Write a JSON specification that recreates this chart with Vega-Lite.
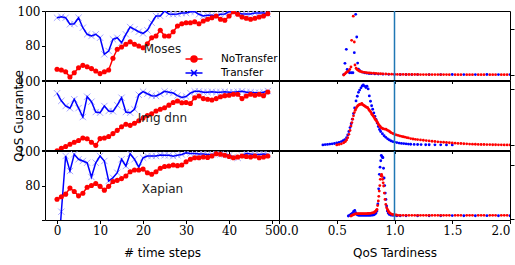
{
"$schema":"https://vega.github.io/schema/vega-lite/v6.json",
"background":"white",
"padding":{"left":11,"top":4,"right":0,"bottom":0},
"datasets":{
"qos":[
{"app":"M","t":0,"NoTransfer":66.2,"Transfer":96.1},{"app":"M","t":1,"NoTransfer":65.8,"Transfer":96.7},{"app":"M","t":2,"NoTransfer":64.8,"Transfer":96.1},{"app":"M","t":3,"NoTransfer":61.7,"Transfer":92.3},{"app":"M","t":4,"NoTransfer":64.2,"Transfer":92.6},{"app":"M","t":5,"NoTransfer":67.1,"Transfer":96.1},{"app":"M","t":6,"NoTransfer":68.5,"Transfer":90.3},{"app":"M","t":7,"NoTransfer":67.7,"Transfer":86.5},{"app":"M","t":8,"NoTransfer":66.6,"Transfer":85.5},{"app":"M","t":9,"NoTransfer":65.2,"Transfer":86.5},
{"app":"M","t":10,"NoTransfer":63.7,"Transfer":84.5},{"app":"M","t":11,"NoTransfer":64.8,"Transfer":74.9},{"app":"M","t":12,"NoTransfer":65.8,"Transfer":76.8},{"app":"M","t":13,"NoTransfer":72.6,"Transfer":83.6},{"app":"M","t":14,"NoTransfer":77.8,"Transfer":84.5},{"app":"M","t":15,"NoTransfer":79.1,"Transfer":81.6},{"app":"M","t":16,"NoTransfer":80.7,"Transfer":86.5},{"app":"M","t":17,"NoTransfer":82.2,"Transfer":90.7},{"app":"M","t":18,"NoTransfer":80.7,"Transfer":89.4},{"app":"M","t":19,"NoTransfer":79.7,"Transfer":88},
{"app":"M","t":20,"NoTransfer":78.7,"Transfer":87},{"app":"M","t":21,"NoTransfer":81,"Transfer":88.8},{"app":"M","t":22,"NoTransfer":84.5,"Transfer":93.2},{"app":"M","t":23,"NoTransfer":85.5,"Transfer":97.1},{"app":"M","t":24,"NoTransfer":88.8,"Transfer":97.1},{"app":"M","t":25,"NoTransfer":85.5,"Transfer":100},{"app":"M","t":26,"NoTransfer":85.5,"Transfer":98.3},{"app":"M","t":27,"NoTransfer":88,"Transfer":98.1},{"app":"M","t":28,"NoTransfer":91.3,"Transfer":98.3},{"app":"M","t":29,"NoTransfer":92.6,"Transfer":98.8},
{"app":"M","t":30,"NoTransfer":93.2,"Transfer":98.8},{"app":"M","t":31,"NoTransfer":93.2,"Transfer":99.6},{"app":"M","t":32,"NoTransfer":93.8,"Transfer":99.6},{"app":"M","t":33,"NoTransfer":92.6,"Transfer":98.1},{"app":"M","t":34,"NoTransfer":94.2,"Transfer":97.1},{"app":"M","t":35,"NoTransfer":95.2,"Transfer":97.5},{"app":"M","t":36,"NoTransfer":96.1,"Transfer":97.5},{"app":"M","t":37,"NoTransfer":97.1,"Transfer":97.1},{"app":"M","t":38,"NoTransfer":95.2,"Transfer":98.1},{"app":"M","t":39,"NoTransfer":94.6,"Transfer":98.3},
{"app":"M","t":40,"NoTransfer":97.1,"Transfer":99.6},{"app":"M","t":41,"NoTransfer":99.6,"Transfer":99.6},{"app":"M","t":42,"NoTransfer":98.1,"Transfer":98.8},{"app":"M","t":43,"NoTransfer":96.5,"Transfer":98.3},{"app":"M","t":44,"NoTransfer":95.8,"Transfer":98.3},{"app":"M","t":45,"NoTransfer":95.2,"Transfer":98.3},{"app":"M","t":46,"NoTransfer":95.8,"Transfer":98.8},{"app":"M","t":47,"NoTransfer":96.5,"Transfer":98.8},{"app":"M","t":48,"NoTransfer":97.1,"Transfer":98.8},{"app":"M","t":49,"NoTransfer":98.4,"Transfer":98.3},
{"app":"I","t":0,"NoTransfer":59.5,"Transfer":92.9},{"app":"I","t":1,"NoTransfer":61,"Transfer":88.5},{"app":"I","t":2,"NoTransfer":62,"Transfer":85.5},{"app":"I","t":3,"NoTransfer":63.3,"Transfer":84.2},{"app":"I","t":4,"NoTransfer":64.5,"Transfer":89.4},{"app":"I","t":5,"NoTransfer":65.5,"Transfer":84.3},{"app":"I","t":6,"NoTransfer":67,"Transfer":79.1},{"app":"I","t":7,"NoTransfer":66.5,"Transfer":90.9},{"app":"I","t":8,"NoTransfer":64.5,"Transfer":88},{"app":"I","t":9,"NoTransfer":62.7,"Transfer":82},
{"app":"I","t":10,"NoTransfer":66.6,"Transfer":81.6},{"app":"I","t":11,"NoTransfer":67,"Transfer":85.5},{"app":"I","t":12,"NoTransfer":67.8,"Transfer":82.6},{"app":"I","t":13,"NoTransfer":69.5,"Transfer":82.4},{"app":"I","t":14,"NoTransfer":71.4,"Transfer":86},{"app":"I","t":15,"NoTransfer":73.5,"Transfer":90.3},{"app":"I","t":16,"NoTransfer":74.9,"Transfer":82},{"app":"I","t":17,"NoTransfer":74.3,"Transfer":81.6},{"app":"I","t":18,"NoTransfer":75.5,"Transfer":83.6},{"app":"I","t":19,"NoTransfer":77,"Transfer":92},
{"app":"I","t":20,"NoTransfer":78.5,"Transfer":93.8},{"app":"I","t":21,"NoTransfer":80,"Transfer":92.6},{"app":"I","t":22,"NoTransfer":81,"Transfer":91.5},{"app":"I","t":23,"NoTransfer":82.6,"Transfer":91.3},{"app":"I","t":24,"NoTransfer":83.6,"Transfer":92.5},{"app":"I","t":25,"NoTransfer":84.5,"Transfer":94},{"app":"I","t":26,"NoTransfer":86,"Transfer":93.5},{"app":"I","t":27,"NoTransfer":87.5,"Transfer":93},{"app":"I","t":28,"NoTransfer":88.4,"Transfer":91.5},{"app":"I","t":29,"NoTransfer":87.4,"Transfer":90.5},
{"app":"I","t":30,"NoTransfer":87.5,"Transfer":91},{"app":"I","t":31,"NoTransfer":87,"Transfer":93},{"app":"I","t":32,"NoTransfer":90.3,"Transfer":94},{"app":"I","t":33,"NoTransfer":91.3,"Transfer":94},{"app":"I","t":34,"NoTransfer":89.8,"Transfer":93.5},{"app":"I","t":35,"NoTransfer":89.4,"Transfer":93.5},{"app":"I","t":36,"NoTransfer":89,"Transfer":93.8},{"app":"I","t":37,"NoTransfer":89.8,"Transfer":93.5},{"app":"I","t":38,"NoTransfer":90.9,"Transfer":93.5},{"app":"I","t":39,"NoTransfer":91.5,"Transfer":93.8},
{"app":"I","t":40,"NoTransfer":91.7,"Transfer":93.5},{"app":"I","t":41,"NoTransfer":92.3,"Transfer":93.5},{"app":"I","t":42,"NoTransfer":92.3,"Transfer":93.8},{"app":"I","t":43,"NoTransfer":89.8,"Transfer":94},{"app":"I","t":44,"NoTransfer":91.3,"Transfer":93.5},{"app":"I","t":45,"NoTransfer":92.3,"Transfer":93.5},{"app":"I","t":46,"NoTransfer":91.7,"Transfer":93.2},{"app":"I","t":47,"NoTransfer":92.3,"Transfer":93.2},{"app":"I","t":48,"NoTransfer":91.5,"Transfer":93.5},{"app":"I","t":49,"NoTransfer":93.6,"Transfer":94.2},
{"app":"X","t":0,"NoTransfer":72,"Transfer":30},{"app":"X","t":1,"NoTransfer":73.5,"Transfer":64.8},{"app":"X","t":2,"NoTransfer":75,"Transfer":97.1},{"app":"X","t":3,"NoTransfer":78.5,"Transfer":88.4},{"app":"X","t":4,"NoTransfer":76.5,"Transfer":98.1},{"app":"X","t":5,"NoTransfer":74,"Transfer":95.2},{"app":"X","t":6,"NoTransfer":75.5,"Transfer":94.2},{"app":"X","t":7,"NoTransfer":79,"Transfer":93.2},{"app":"X","t":8,"NoTransfer":80,"Transfer":84.9},{"app":"X","t":9,"NoTransfer":81.2,"Transfer":93.2},
{"app":"X","t":10,"NoTransfer":79.5,"Transfer":97.1},{"app":"X","t":11,"NoTransfer":77.3,"Transfer":94.2},{"app":"X","t":12,"NoTransfer":79.5,"Transfer":82.6},{"app":"X","t":13,"NoTransfer":82.3,"Transfer":84.5},{"app":"X","t":14,"NoTransfer":83,"Transfer":87.4},{"app":"X","t":15,"NoTransfer":84,"Transfer":95.2},{"app":"X","t":16,"NoTransfer":85.5,"Transfer":91.3},{"app":"X","t":17,"NoTransfer":88,"Transfer":98.4},{"app":"X","t":18,"NoTransfer":89,"Transfer":95.2},{"app":"X","t":19,"NoTransfer":89,"Transfer":90.7},
{"app":"X","t":20,"NoTransfer":89.5,"Transfer":96.1},{"app":"X","t":21,"NoTransfer":87.4,"Transfer":97.1},{"app":"X","t":22,"NoTransfer":86.5,"Transfer":97.1},{"app":"X","t":23,"NoTransfer":88,"Transfer":97.1},{"app":"X","t":24,"NoTransfer":90,"Transfer":97.7},{"app":"X","t":25,"NoTransfer":91,"Transfer":97.5},{"app":"X","t":26,"NoTransfer":91.3,"Transfer":97.5},{"app":"X","t":27,"NoTransfer":91.9,"Transfer":97},{"app":"X","t":28,"NoTransfer":91.5,"Transfer":97.5},{"app":"X","t":29,"NoTransfer":91.9,"Transfer":98},
{"app":"X","t":30,"NoTransfer":93.8,"Transfer":99},{"app":"X","t":31,"NoTransfer":95.2,"Transfer":98.5},{"app":"X","t":32,"NoTransfer":96.1,"Transfer":98.5},{"app":"X","t":33,"NoTransfer":96.1,"Transfer":98.2},{"app":"X","t":34,"NoTransfer":96.5,"Transfer":98.2},{"app":"X","t":35,"NoTransfer":96.3,"Transfer":98},{"app":"X","t":36,"NoTransfer":97.1,"Transfer":98},{"app":"X","t":37,"NoTransfer":98.4,"Transfer":98.2},{"app":"X","t":38,"NoTransfer":98.1,"Transfer":98},{"app":"X","t":39,"NoTransfer":97.5,"Transfer":98},
{"app":"X","t":40,"NoTransfer":96.8,"Transfer":97.5},{"app":"X","t":41,"NoTransfer":96.1,"Transfer":96.5},{"app":"X","t":42,"NoTransfer":96.5,"Transfer":96},{"app":"X","t":43,"NoTransfer":97.1,"Transfer":97.5},{"app":"X","t":44,"NoTransfer":96.8,"Transfer":98.5},{"app":"X","t":45,"NoTransfer":96.5,"Transfer":98.2},{"app":"X","t":46,"NoTransfer":97.1,"Transfer":98},{"app":"X","t":47,"NoTransfer":96.1,"Transfer":98},{"app":"X","t":48,"NoTransfer":96.5,"Transfer":98.2},{"app":"X","t":49,"NoTransfer":97.1,"Transfer":98}
],
"labels":[
{"app":"M","label":"Moses","t":24.5,"q":75.8},{"app":"I","label":"Img dnn","t":24.5,"q":76},{"app":"X","label":"Xapian","t":24.5,"q":75.8}
],
"tard":[
{"a":"M","s":"T","x":0.56,"y":0.5},{"a":"M","s":"T","x":0.571,"y":12.7},{"a":"M","s":"T","x":0.583,"y":27.9},{"a":"M","s":"T","x":0.59,"y":6},{"a":"M","s":"T","x":0.6,"y":4},{"a":"M","s":"T","x":0.61,"y":2.5},{"a":"M","s":"T","x":0.625,"y":2.5},{"a":"M","s":"T","x":0.64,"y":2.5},{"a":"M","s":"T","x":0.652,"y":24.3},{"a":"M","s":"T","x":0.664,"y":66},{"a":"M","s":"T","x":0.673,"y":41.3},{"a":"M","s":"T","x":0.681,"y":13},{"a":"M","s":"T","x":0.688,"y":6.5},{"a":"M","s":"T","x":0.7,"y":4.8},{"a":"M","s":"T","x":0.72,"y":3.2},{"a":"M","s":"T","x":0.74,"y":2.5},{"a":"M","s":"T","x":0.76,"y":2},{"a":"M","s":"T","x":0.78,"y":1.7},{"a":"M","s":"T","x":0.8,"y":1.5},{"a":"M","s":"T","x":0.83,"y":1.2},{"a":"M","s":"T","x":0.86,"y":1},{"a":"M","s":"T","x":0.9,"y":0.9},{"a":"M","s":"T","x":0.95,"y":0.8},{"a":"M","s":"T","x":1.0,"y":0.7},{"a":"M","s":"T","x":1.05,"y":0.6},{"a":"M","s":"T","x":1.1,"y":0.6},{"a":"M","s":"T","x":1.15,"y":0.5},{"a":"M","s":"T","x":1.2,"y":0.5},{"a":"M","s":"T","x":1.3,"y":0.5},{"a":"M","s":"T","x":1.4,"y":0.5},{"a":"M","s":"T","x":1.5,"y":0.6},{"a":"M","s":"T","x":1.6,"y":0.5},{"a":"M","s":"T","x":1.7,"y":0.5},{"a":"M","s":"T","x":1.8,"y":0.6},{"a":"M","s":"T","x":1.9,"y":0.5},{"a":"M","s":"T","x":2.0,"y":0.5},
{"a":"M","s":"N","x":0.56,"y":0},{"a":"M","s":"N","x":0.57,"y":1.2},{"a":"M","s":"N","x":0.58,"y":2.5},{"a":"M","s":"N","x":0.59,"y":3.4},{"a":"M","s":"N","x":0.6,"y":4.3},{"a":"M","s":"N","x":0.612,"y":6},{"a":"M","s":"N","x":0.623,"y":8.7},{"a":"M","s":"N","x":0.629,"y":37.7},{"a":"M","s":"N","x":0.643,"y":64},{"a":"M","s":"N","x":0.652,"y":35.9},{"a":"M","s":"N","x":0.658,"y":10.9},{"a":"M","s":"N","x":0.668,"y":7.5},{"a":"M","s":"N","x":0.675,"y":6.2},{"a":"M","s":"N","x":0.685,"y":5.2},{"a":"M","s":"N","x":0.695,"y":4.4},{"a":"M","s":"N","x":0.705,"y":3.9},{"a":"M","s":"N","x":0.715,"y":3.5},{"a":"M","s":"N","x":0.725,"y":3.2},{"a":"M","s":"N","x":0.74,"y":2.9},{"a":"M","s":"N","x":0.755,"y":2.6},{"a":"M","s":"N","x":0.77,"y":2.4},{"a":"M","s":"N","x":0.785,"y":2.2},{"a":"M","s":"N","x":0.8,"y":2},{"a":"M","s":"N","x":0.82,"y":1.9},{"a":"M","s":"N","x":0.84,"y":1.7},{"a":"M","s":"N","x":0.86,"y":1.6},{"a":"M","s":"N","x":0.88,"y":1.4},{"a":"M","s":"N","x":0.9,"y":1.3},{"a":"M","s":"N","x":0.925,"y":1.1},{"a":"M","s":"N","x":0.95,"y":1},{"a":"M","s":"N","x":0.975,"y":0.9},{"a":"M","s":"N","x":1.0,"y":0.8},
{"a":"M","s":"N","x":1.025,"y":0.7},{"a":"M","s":"N","x":1.05,"y":0.7},{"a":"M","s":"N","x":1.075,"y":0.7},{"a":"M","s":"N","x":1.1,"y":0.6},{"a":"M","s":"N","x":1.125,"y":0.6},{"a":"M","s":"N","x":1.15,"y":0.6},{"a":"M","s":"N","x":1.175,"y":0.6},{"a":"M","s":"N","x":1.2,"y":0.6},{"a":"M","s":"N","x":1.225,"y":0.5},{"a":"M","s":"N","x":1.25,"y":0.5},{"a":"M","s":"N","x":1.275,"y":0.5},{"a":"M","s":"N","x":1.3,"y":0.5},{"a":"M","s":"N","x":1.325,"y":0.5},{"a":"M","s":"N","x":1.35,"y":0.5},{"a":"M","s":"N","x":1.375,"y":0.5},{"a":"M","s":"N","x":1.4,"y":0.5},{"a":"M","s":"N","x":1.425,"y":0.5},{"a":"M","s":"N","x":1.45,"y":0.5},{"a":"M","s":"N","x":1.475,"y":0.4},{"a":"M","s":"N","x":1.525,"y":0.4},{"a":"M","s":"N","x":1.55,"y":0.4},{"a":"M","s":"N","x":1.575,"y":0.4},{"a":"M","s":"N","x":1.625,"y":0.4},{"a":"M","s":"N","x":1.65,"y":0.4},{"a":"M","s":"N","x":1.675,"y":0.4},{"a":"M","s":"N","x":1.725,"y":0.4},{"a":"M","s":"N","x":1.75,"y":0.4},{"a":"M","s":"N","x":1.775,"y":0.4},{"a":"M","s":"N","x":1.825,"y":0.4},{"a":"M","s":"N","x":1.85,"y":0.4},{"a":"M","s":"N","x":1.875,"y":0.4},{"a":"M","s":"N","x":1.925,"y":0.4},{"a":"M","s":"N","x":1.95,"y":0.4},{"a":"M","s":"N","x":1.975,"y":0.4},
{"a":"I","s":"T","x":0.38,"y":0},{"a":"I","s":"T","x":0.4,"y":0.3},{"a":"I","s":"T","x":0.42,"y":0.5},{"a":"I","s":"T","x":0.44,"y":0.8},{"a":"I","s":"T","x":0.46,"y":1},{"a":"I","s":"T","x":0.48,"y":1.3},{"a":"I","s":"T","x":0.5,"y":1.8},{"a":"I","s":"T","x":0.52,"y":2.3},{"a":"I","s":"T","x":0.54,"y":3},{"a":"I","s":"T","x":0.555,"y":3.8},{"a":"I","s":"T","x":0.57,"y":4.8},{"a":"I","s":"T","x":0.585,"y":6.5},{"a":"I","s":"T","x":0.595,"y":9},{"a":"I","s":"T","x":0.605,"y":12},{"a":"I","s":"T","x":0.615,"y":15.5},{"a":"I","s":"T","x":0.625,"y":19},{"a":"I","s":"T","x":0.635,"y":23},{"a":"I","s":"T","x":0.645,"y":28},{"a":"I","s":"T","x":0.655,"y":33},{"a":"I","s":"T","x":0.667,"y":39.3},{"a":"I","s":"T","x":0.678,"y":43.5},{"a":"I","s":"T","x":0.688,"y":47},{"a":"I","s":"T","x":0.698,"y":49},{"a":"I","s":"T","x":0.71,"y":51},{"a":"I","s":"T","x":0.72,"y":52.7},{"a":"I","s":"T","x":0.73,"y":53.5},{"a":"I","s":"T","x":0.742,"y":52.5},{"a":"I","s":"T","x":0.753,"y":51.2},{"a":"I","s":"T","x":0.762,"y":52.5},{"a":"I","s":"T","x":0.772,"y":50},{"a":"I","s":"T","x":0.782,"y":43.8},{"a":"I","s":"T","x":0.792,"y":39},{"a":"I","s":"T","x":0.802,"y":35},{"a":"I","s":"T","x":0.811,"y":31.9},{"a":"I","s":"T","x":0.821,"y":28.5},{"a":"I","s":"T","x":0.831,"y":25.5},{"a":"I","s":"T","x":0.84,"y":22.9},{"a":"I","s":"T","x":0.85,"y":19.5},{"a":"I","s":"T","x":0.86,"y":16.5},{"a":"I","s":"T","x":0.87,"y":13.8},{"a":"I","s":"T","x":0.88,"y":12},{"a":"I","s":"T","x":0.895,"y":10},{"a":"I","s":"T","x":0.91,"y":8.2},{"a":"I","s":"T","x":0.925,"y":6.8},{"a":"I","s":"T","x":0.94,"y":5.5},{"a":"I","s":"T","x":0.955,"y":4.5},{"a":"I","s":"T","x":0.97,"y":3.6},{"a":"I","s":"T","x":0.985,"y":3},{"a":"I","s":"T","x":1.0,"y":2.6},{"a":"I","s":"T","x":1.02,"y":2.1},{"a":"I","s":"T","x":1.04,"y":1.7},{"a":"I","s":"T","x":1.06,"y":1.4},{"a":"I","s":"T","x":1.08,"y":1.2},{"a":"I","s":"T","x":1.1,"y":1},{"a":"I","s":"T","x":1.12,"y":0.8},{"a":"I","s":"T","x":1.14,"y":0.6},{"a":"I","s":"T","x":1.17,"y":0.5},{"a":"I","s":"T","x":1.2,"y":0.4},{"a":"I","s":"T","x":1.23,"y":0.3},{"a":"I","s":"T","x":1.27,"y":0.2},{"a":"I","s":"T","x":1.3,"y":0.2},{"a":"I","s":"T","x":1.35,"y":0.1},{"a":"I","s":"T","x":1.4,"y":0.1},{"a":"I","s":"T","x":1.45,"y":0},{"a":"I","s":"T","x":1.5,"y":0},
{"a":"I","s":"N","x":0.5,"y":0},{"a":"I","s":"N","x":0.52,"y":0.5},{"a":"I","s":"N","x":0.54,"y":1},{"a":"I","s":"N","x":0.56,"y":2},{"a":"I","s":"N","x":0.575,"y":3},{"a":"I","s":"N","x":0.585,"y":4.5},{"a":"I","s":"N","x":0.595,"y":6.5},{"a":"I","s":"N","x":0.605,"y":9.5},{"a":"I","s":"N","x":0.615,"y":13},{"a":"I","s":"N","x":0.623,"y":17},{"a":"I","s":"N","x":0.631,"y":20},{"a":"I","s":"N","x":0.638,"y":23},{"a":"I","s":"N","x":0.645,"y":26},{"a":"I","s":"N","x":0.652,"y":28.9},{"a":"I","s":"N","x":0.66,"y":31},{"a":"I","s":"N","x":0.667,"y":32.5},{"a":"I","s":"N","x":0.674,"y":34},{"a":"I","s":"N","x":0.681,"y":34.8},{"a":"I","s":"N","x":0.688,"y":35.5},{"a":"I","s":"N","x":0.695,"y":36},{"a":"I","s":"N","x":0.703,"y":36.5},{"a":"I","s":"N","x":0.71,"y":36.3},{"a":"I","s":"N","x":0.717,"y":37},{"a":"I","s":"N","x":0.724,"y":36},{"a":"I","s":"N","x":0.731,"y":35.5},{"a":"I","s":"N","x":0.739,"y":35},{"a":"I","s":"N","x":0.746,"y":34.5},{"a":"I","s":"N","x":0.753,"y":34},{"a":"I","s":"N","x":0.761,"y":33.5},{"a":"I","s":"N","x":0.768,"y":33.3},{"a":"I","s":"N","x":0.775,"y":32},{"a":"I","s":"N","x":0.782,"y":31},{"a":"I","s":"N","x":0.79,"y":30},{"a":"I","s":"N","x":0.797,"y":28.9},{"a":"I","s":"N","x":0.804,"y":27.5},{"a":"I","s":"N","x":0.811,"y":26.5},{"a":"I","s":"N","x":0.818,"y":25.5},{"a":"I","s":"N","x":0.825,"y":24.4},{"a":"I","s":"N","x":0.833,"y":23},{"a":"I","s":"N","x":0.84,"y":22},{"a":"I","s":"N","x":0.847,"y":21},{"a":"I","s":"N","x":0.854,"y":19.9},{"a":"I","s":"N","x":0.861,"y":18.5},{"a":"I","s":"N","x":0.868,"y":17.5},{"a":"I","s":"N","x":0.876,"y":16.5},{"a":"I","s":"N","x":0.883,"y":15.5},{"a":"I","s":"N","x":0.892,"y":15},{"a":"I","s":"N","x":0.9,"y":14.5},{"a":"I","s":"N","x":0.913,"y":14.2},{"a":"I","s":"N","x":0.926,"y":14},{"a":"I","s":"N","x":0.938,"y":13.2},{"a":"I","s":"N","x":0.95,"y":12.5},{"a":"I","s":"N","x":0.96,"y":11.8},{"a":"I","s":"N","x":0.97,"y":11},{"a":"I","s":"N","x":0.985,"y":10.2},{"a":"I","s":"N","x":1.0,"y":9.5},{"a":"I","s":"N","x":1.015,"y":9},{"a":"I","s":"N","x":1.03,"y":8.6},{"a":"I","s":"N","x":1.045,"y":8.1},{"a":"I","s":"N","x":1.06,"y":7.7},{"a":"I","s":"N","x":1.075,"y":7.3},{"a":"I","s":"N","x":1.09,"y":7},{"a":"I","s":"N","x":1.105,"y":6.6},{"a":"I","s":"N","x":1.12,"y":6.3},{"a":"I","s":"N","x":1.14,"y":5.7},{"a":"I","s":"N","x":1.16,"y":5.3},{"a":"I","s":"N","x":1.18,"y":5},{"a":"I","s":"N","x":1.2,"y":4.8},{"a":"I","s":"N","x":1.225,"y":4.5},{"a":"I","s":"N","x":1.25,"y":4.2},{"a":"I","s":"N","x":1.275,"y":3.9},{"a":"I","s":"N","x":1.3,"y":3.6},{"a":"I","s":"N","x":1.325,"y":3.3},{"a":"I","s":"N","x":1.35,"y":3.1},{"a":"I","s":"N","x":1.375,"y":2.8},{"a":"I","s":"N","x":1.4,"y":2.6},{"a":"I","s":"N","x":1.425,"y":2.4},{"a":"I","s":"N","x":1.45,"y":2.2},{"a":"I","s":"N","x":1.475,"y":2},{"a":"I","s":"N","x":1.5,"y":1.8},{"a":"I","s":"N","x":1.525,"y":1.6},{"a":"I","s":"N","x":1.55,"y":1.4},{"a":"I","s":"N","x":1.575,"y":1.3},{"a":"I","s":"N","x":1.6,"y":1.1},{"a":"I","s":"N","x":1.625,"y":1},{"a":"I","s":"N","x":1.65,"y":0.8},{"a":"I","s":"N","x":1.675,"y":0.7},{"a":"I","s":"N","x":1.7,"y":0.6},{"a":"I","s":"N","x":1.725,"y":0.5},{"a":"I","s":"N","x":1.75,"y":0.4},{"a":"I","s":"N","x":1.775,"y":0.4},{"a":"I","s":"N","x":1.8,"y":0.3},{"a":"I","s":"N","x":1.825,"y":0.3},{"a":"I","s":"N","x":1.85,"y":0.2},{"a":"I","s":"N","x":1.875,"y":0.2},{"a":"I","s":"N","x":1.9,"y":0.1},{"a":"I","s":"N","x":1.925,"y":0.1},{"a":"I","s":"N","x":1.95,"y":0},{"a":"I","s":"N","x":1.975,"y":0},{"a":"I","s":"N","x":2.0,"y":0},
{"a":"X","s":"T","x":0.6,"y":2.8},{"a":"X","s":"T","x":0.612,"y":3.5},{"a":"X","s":"T","x":0.624,"y":4.5},{"a":"X","s":"T","x":0.636,"y":5.5},{"a":"X","s":"T","x":0.646,"y":7},{"a":"X","s":"T","x":0.656,"y":8},{"a":"X","s":"T","x":0.664,"y":6},{"a":"X","s":"T","x":0.672,"y":4.5},{"a":"X","s":"T","x":0.68,"y":3.8},{"a":"X","s":"T","x":0.69,"y":3.5},{"a":"X","s":"T","x":0.7,"y":3.4},{"a":"X","s":"T","x":0.71,"y":3.4},{"a":"X","s":"T","x":0.72,"y":3.4},{"a":"X","s":"T","x":0.73,"y":3.4},{"a":"X","s":"T","x":0.74,"y":3.4},{"a":"X","s":"T","x":0.75,"y":3.4},{"a":"X","s":"T","x":0.76,"y":3.4},{"a":"X","s":"T","x":0.77,"y":3.4},{"a":"X","s":"T","x":0.78,"y":3.5},{"a":"X","s":"T","x":0.79,"y":3.5},{"a":"X","s":"T","x":0.8,"y":3.6},{"a":"X","s":"T","x":0.81,"y":3.7},{"a":"X","s":"T","x":0.82,"y":3.8},{"a":"X","s":"T","x":0.83,"y":4.5},{"a":"X","s":"T","x":0.84,"y":5.5},{"a":"X","s":"T","x":0.848,"y":7.4},{"a":"X","s":"T","x":0.856,"y":14},{"a":"X","s":"T","x":0.863,"y":28},{"a":"X","s":"T","x":0.869,"y":41.4},{"a":"X","s":"T","x":0.875,"y":48},{"a":"X","s":"T","x":0.881,"y":54},{"a":"X","s":"T","x":0.886,"y":59},{"a":"X","s":"T","x":0.891,"y":58},{"a":"X","s":"T","x":0.896,"y":57},{"a":"X","s":"T","x":0.9,"y":56.8},{"a":"X","s":"T","x":0.905,"y":47},{"a":"X","s":"T","x":0.91,"y":38},{"a":"X","s":"T","x":0.915,"y":31},{"a":"X","s":"T","x":0.92,"y":24},{"a":"X","s":"T","x":0.926,"y":18.2},{"a":"X","s":"T","x":0.932,"y":12},{"a":"X","s":"T","x":0.938,"y":7.5},{"a":"X","s":"T","x":0.945,"y":5.5},{"a":"X","s":"T","x":0.955,"y":4.3},{"a":"X","s":"T","x":0.97,"y":3.6},{"a":"X","s":"T","x":0.985,"y":3.4},{"a":"X","s":"T","x":1.0,"y":3.2},{"a":"X","s":"T","x":1.02,"y":3},{"a":"X","s":"T","x":1.05,"y":3},{"a":"X","s":"T","x":1.1,"y":3},{"a":"X","s":"T","x":1.2,"y":3},{"a":"X","s":"T","x":1.3,"y":3},{"a":"X","s":"T","x":1.4,"y":3},{"a":"X","s":"T","x":1.5,"y":3.2},{"a":"X","s":"T","x":1.6,"y":3},{"a":"X","s":"T","x":1.7,"y":3},{"a":"X","s":"T","x":1.8,"y":3.1},{"a":"X","s":"T","x":1.9,"y":3},{"a":"X","s":"T","x":2.0,"y":3},
{"a":"X","s":"N","x":0.623,"y":2.8},{"a":"X","s":"N","x":0.635,"y":3.5},{"a":"X","s":"N","x":0.645,"y":4},{"a":"X","s":"N","x":0.656,"y":4.5},{"a":"X","s":"N","x":0.667,"y":5},{"a":"X","s":"N","x":0.68,"y":5},{"a":"X","s":"N","x":0.69,"y":5},{"a":"X","s":"N","x":0.7,"y":5},{"a":"X","s":"N","x":0.71,"y":5},{"a":"X","s":"N","x":0.72,"y":5},{"a":"X","s":"N","x":0.73,"y":5},{"a":"X","s":"N","x":0.74,"y":5},{"a":"X","s":"N","x":0.75,"y":5},{"a":"X","s":"N","x":0.76,"y":5},{"a":"X","s":"N","x":0.77,"y":5.1},{"a":"X","s":"N","x":0.78,"y":5.2},{"a":"X","s":"N","x":0.79,"y":5.3},{"a":"X","s":"N","x":0.8,"y":5.5},{"a":"X","s":"N","x":0.81,"y":5.7},{"a":"X","s":"N","x":0.82,"y":6},{"a":"X","s":"N","x":0.828,"y":6.5},{"a":"X","s":"N","x":0.835,"y":7},{"a":"X","s":"N","x":0.842,"y":8},{"a":"X","s":"N","x":0.848,"y":9},{"a":"X","s":"N","x":0.854,"y":12.5},{"a":"X","s":"N","x":0.86,"y":16.7},{"a":"X","s":"N","x":0.864,"y":21},{"a":"X","s":"N","x":0.868,"y":25.9},{"a":"X","s":"N","x":0.873,"y":31},{"a":"X","s":"N","x":0.877,"y":36.8},{"a":"X","s":"N","x":0.883,"y":40},{"a":"X","s":"N","x":0.888,"y":41.4},{"a":"X","s":"N","x":0.893,"y":39.5},{"a":"X","s":"N","x":0.897,"y":36.8},{"a":"X","s":"N","x":0.902,"y":33.5},{"a":"X","s":"N","x":0.906,"y":30.6},{"a":"X","s":"N","x":0.912,"y":24},{"a":"X","s":"N","x":0.918,"y":18.2},{"a":"X","s":"N","x":0.925,"y":13.5},{"a":"X","s":"N","x":0.932,"y":10.5},{"a":"X","s":"N","x":0.939,"y":8.8},{"a":"X","s":"N","x":0.946,"y":7.4},{"a":"X","s":"N","x":0.953,"y":6.3},{"a":"X","s":"N","x":0.96,"y":5.5},{"a":"X","s":"N","x":0.97,"y":4.8},{"a":"X","s":"N","x":0.98,"y":4.3},{"a":"X","s":"N","x":0.99,"y":4.1},{"a":"X","s":"N","x":1.0,"y":4},{"a":"X","s":"N","x":1.015,"y":3.7},{"a":"X","s":"N","x":1.03,"y":3.4},{"a":"X","s":"N","x":1.05,"y":3.4},{"a":"X","s":"N","x":1.075,"y":3.4},{"a":"X","s":"N","x":1.1,"y":3.4},{"a":"X","s":"N","x":1.125,"y":3.4},{"a":"X","s":"N","x":1.15,"y":3.4},{"a":"X","s":"N","x":1.175,"y":3.4},{"a":"X","s":"N","x":1.2,"y":3.4},{"a":"X","s":"N","x":1.225,"y":3.4},{"a":"X","s":"N","x":1.25,"y":3.4},{"a":"X","s":"N","x":1.275,"y":3.4},{"a":"X","s":"N","x":1.3,"y":3.4},{"a":"X","s":"N","x":1.325,"y":3.4},{"a":"X","s":"N","x":1.35,"y":3.4},{"a":"X","s":"N","x":1.375,"y":3.4},{"a":"X","s":"N","x":1.4,"y":3.4},{"a":"X","s":"N","x":1.425,"y":3.4},{"a":"X","s":"N","x":1.45,"y":3.4},{"a":"X","s":"N","x":1.475,"y":3.4},{"a":"X","s":"N","x":1.525,"y":3.4},{"a":"X","s":"N","x":1.55,"y":3.4},{"a":"X","s":"N","x":1.575,"y":3.4},{"a":"X","s":"N","x":1.625,"y":3.4},{"a":"X","s":"N","x":1.65,"y":3.4},{"a":"X","s":"N","x":1.675,"y":3.4},{"a":"X","s":"N","x":1.725,"y":3.4},{"a":"X","s":"N","x":1.75,"y":3.4},{"a":"X","s":"N","x":1.775,"y":3.4},{"a":"X","s":"N","x":1.825,"y":3.4},{"a":"X","s":"N","x":1.85,"y":3.4},{"a":"X","s":"N","x":1.875,"y":3.4},{"a":"X","s":"N","x":1.925,"y":3.4},{"a":"X","s":"N","x":1.95,"y":3.4},{"a":"X","s":"N","x":1.975,"y":3.4}
]
},
"columns":2,
"spacing":{"row":1,"column":0},
"bounds":"flush",
"concat":[
{"width":234,"height":69,
 "encoding":{
  "x":{"field":"t","type":"quantitative","scale":{"domain":[-2.8,51.6],"nice":false,"zero":false},"axis":{"values":[0,10,20,30,40,50],"labels":false,"title":null}},
  "y":{"field":"q","type":"quantitative","scale":{"domain":[60,100],"nice":false,"zero":false},"axis":{"values":[60,80,100],"labelExpr":"datum.value==60?'':datum.label","title":null}}},
 "layer":[
  {"data":{"name":"qos"},"transform":[{"filter":"datum.app==='M'"},{"fold":["Transfer"],"as":["series","q"]}],
   "mark":{"type":"point","shape":"M-1,-1L1,1M-1,1L1,-1","filled":false,"color":"#a8a8ff","strokeWidth":1,"size":40,"opacity":1,"clip":true}},
  {"data":{"name":"qos"},"transform":[{"filter":"datum.app==='M'"},{"fold":["NoTransfer","Transfer"],"as":["series","q"]}],
   "mark":{"type":"line","strokeWidth":1.5,"clip":true},
   "encoding":{"color":{"field":"series","type":"nominal","scale":{"domain":["NoTransfer","Transfer"],"range":["#ff0000","#0000ff"]},
     "legend":{"orient":"bottom-right","offset":1,"padding":0,"title":null,"labelFont":"DejaVu Sans","labelFontSize":10.5,"labelColor":"black","symbolSize":100,"symbolStrokeWidth":1.5,"labelOffset":21,"rowPadding":2,
      "symbolType":"M-1.7,0H1.7M-0.6,0A0.6,0.6,0,1,0,0.6,0A0.6,0.6,0,1,0,-0.6,0Z",
      "encode":{"symbols":{"update":{
        "shape":{"signal":"datum.value==='NoTransfer'?'M-1.7,0H1.7M-0.6,0A0.6,0.6,0,1,0,0.6,0A0.6,0.6,0,1,0,-0.6,0Z':'M-1.7,0H1.7M-0.6,-0.6L0.6,0.6M-0.6,0.6L0.6,-0.6'"},
        "fill":{"signal":"datum.value==='NoTransfer'?'#ff0000':'transparent'"},
        "stroke":{"signal":"datum.value==='NoTransfer'?'#ff0000':'#0000ff'"}}}}}}}},
  {"data":{"name":"qos"},"transform":[{"filter":"datum.app==='M'"},{"fold":["NoTransfer"],"as":["series","q"]}],
   "mark":{"type":"circle","color":"#ff0000","size":26,"opacity":1,"clip":true}},
  {"data":{"name":"labels"},"transform":[{"filter":"datum.app==='M'"}],"mark":{"type":"text","font":"DejaVu Sans","fontSize":12,"align":"center","baseline":"alphabetic","color":"#222222"},
   "encoding":{"text":{"field":"label","type":"nominal"}}}
 ]},
{"width":231,"height":69,
 "layer":[
  {"data":{"name":"tard"},"transform":[{"filter":"datum.a==='M'"}],
   "mark":{"type":"circle","size":8,"opacity":1,"clip":true},
   "encoding":{
    "x":{"field":"x","type":"quantitative","scale":{"domain":[0,2],"nice":false,"zero":false},"axis":{"values":[0,0.5,1,1.5,2],"labels":false,"title":null}},
    "y":{"field":"y","type":"quantitative","scale":{"domain":[-5.4,69.6],"nice":false,"zero":false},"axis":{"orient":"right","values":[0,50],"labels":false,"title":null,"tickSize":4}},
    "color":{"field":"s","type":"nominal","scale":{"domain":["T","N"],"range":["#0000ff","#ff0000"]},"legend":null}}},
  {"data":{"values":[{"v":1}]},"mark":{"type":"rule","color":"#1f77b4","strokeWidth":1.5},"encoding":{"x":{"field":"v","type":"quantitative"}}}
 ]},
{"width":234,"height":69,
 "encoding":{
  "x":{"field":"t","type":"quantitative","scale":{"domain":[-2.8,51.6],"nice":false,"zero":false},"axis":{"values":[0,10,20,30,40,50],"labels":false,"title":null}},
  "y":{"field":"q","type":"quantitative","scale":{"domain":[60,100],"nice":false,"zero":false},"axis":{"values":[60,80,100],"labelExpr":"datum.value==60?'':datum.label","title":"QoS Guarantee","titleX":-23,"titleAngle":270,"titleBaseline":"alphabetic"}}},
 "layer":[
  {"data":{"name":"qos"},"transform":[{"filter":"datum.app==='I'"},{"fold":["Transfer"],"as":["series","q"]}],
   "mark":{"type":"point","shape":"M-1,-1L1,1M-1,1L1,-1","filled":false,"color":"#a8a8ff","strokeWidth":1,"size":40,"opacity":1,"clip":true}},
  {"data":{"name":"qos"},"transform":[{"filter":"datum.app==='I'"},{"fold":["NoTransfer","Transfer"],"as":["series","q"]}],
   "mark":{"type":"line","strokeWidth":1.5,"clip":true},
   "encoding":{"color":{"field":"series","type":"nominal","scale":{"domain":["NoTransfer","Transfer"],"range":["#ff0000","#0000ff"]},"legend":null}}},
  {"data":{"name":"qos"},"transform":[{"filter":"datum.app==='I'"},{"fold":["NoTransfer"],"as":["series","q"]}],
   "mark":{"type":"circle","color":"#ff0000","size":26,"opacity":1,"clip":true}},
  {"data":{"name":"labels"},"transform":[{"filter":"datum.app==='I'"}],"mark":{"type":"text","font":"DejaVu Sans","fontSize":12,"align":"center","baseline":"alphabetic","color":"#222222"},
   "encoding":{"text":{"field":"label","type":"nominal"}}}
 ]},
{"width":231,"height":69,
 "layer":[
  {"data":{"name":"tard"},"transform":[{"filter":"datum.a==='I'"}],
   "mark":{"type":"circle","size":8,"opacity":1,"clip":true},
   "encoding":{
    "x":{"field":"x","type":"quantitative","scale":{"domain":[0,2],"nice":false,"zero":false},"axis":{"values":[0,0.5,1,1.5,2],"labels":false,"title":null}},
    "y":{"field":"y","type":"quantitative","scale":{"domain":[-4.5,57.1],"nice":false,"zero":false},"axis":{"orient":"right","values":[0,50],"labels":false,"title":null,"tickSize":4}},
    "color":{"field":"s","type":"nominal","scale":{"domain":["T","N"],"range":["#0000ff","#ff0000"]},"legend":null}}},
  {"data":{"values":[{"v":1}]},"mark":{"type":"rule","color":"#1f77b4","strokeWidth":1.5},"encoding":{"x":{"field":"v","type":"quantitative"}}}
 ]},
{"width":234,"height":69,
 "encoding":{
  "x":{"field":"t","type":"quantitative","scale":{"domain":[-2.8,51.6],"nice":false,"zero":false},"axis":{"values":[0,10,20,30,40,50],"title":"# time steps","titlePadding":11}},
  "y":{"field":"q","type":"quantitative","scale":{"domain":[60,100],"nice":false,"zero":false},"axis":{"values":[60,80,100],"labelExpr":"datum.value==60?'':datum.label","title":null}}},
 "layer":[
  {"data":{"name":"qos"},"transform":[{"filter":"datum.app==='X'"},{"fold":["Transfer"],"as":["series","q"]}],
   "mark":{"type":"point","shape":"M-1,-1L1,1M-1,1L1,-1","filled":false,"color":"#a8a8ff","strokeWidth":1,"size":40,"opacity":1,"clip":true}},
  {"data":{"name":"qos"},"transform":[{"filter":"datum.app==='X'"},{"fold":["NoTransfer","Transfer"],"as":["series","q"]}],
   "mark":{"type":"line","strokeWidth":1.5,"clip":true},
   "encoding":{"color":{"field":"series","type":"nominal","scale":{"domain":["NoTransfer","Transfer"],"range":["#ff0000","#0000ff"]},"legend":null}}},
  {"data":{"name":"qos"},"transform":[{"filter":"datum.app==='X'"},{"fold":["NoTransfer"],"as":["series","q"]}],
   "mark":{"type":"circle","color":"#ff0000","size":26,"opacity":1,"clip":true}},
  {"data":{"name":"labels"},"transform":[{"filter":"datum.app==='X'"}],"mark":{"type":"text","font":"DejaVu Sans","fontSize":12,"align":"center","baseline":"alphabetic","color":"#222222"},
   "encoding":{"text":{"field":"label","type":"nominal"}}}
 ]},
{"width":231,"height":69,
 "layer":[
  {"data":{"name":"tard"},"transform":[{"filter":"datum.a==='X'"}],
   "mark":{"type":"circle","size":8,"opacity":1,"clip":true},
   "encoding":{
    "x":{"field":"x","type":"quantitative","scale":{"domain":[0,2],"nice":false,"zero":false},"axis":{"values":[0,0.5,1,1.5,2],"format":".1f","title":"QoS Tardiness","titlePadding":11}},
    "y":{"field":"y","type":"quantitative","scale":{"domain":[-0.9,63],"nice":false,"zero":false},"axis":{"orient":"right","values":[0,50],"labels":false,"title":null,"tickSize":4}},
    "color":{"field":"s","type":"nominal","scale":{"domain":["T","N"],"range":["#0000ff","#ff0000"]},"legend":null}}},
  {"data":{"values":[{"v":1}]},"mark":{"type":"rule","color":"#1f77b4","strokeWidth":1.5},"encoding":{"x":{"field":"v","type":"quantitative"}}}
 ]}
],
"resolve":{"scale":{"x":"independent","y":"independent","color":"independent"},"legend":{"color":"independent"}},
"config":{
 "view":{"stroke":"black","strokeWidth":1},
 "axis":{"domain":false,"grid":false,"ticks":true,"tickColor":"black","tickWidth":1,"tickSize":3.5,"labelColor":"black","labelFont":"DejaVu Serif","labelFontSize":12,"labelPadding":1.5,"titleFont":"DejaVu Sans","titleFontSize":12,"titleFontWeight":"normal","titleColor":"black"},
 "text":{"font":"DejaVu Sans"}
}
}
